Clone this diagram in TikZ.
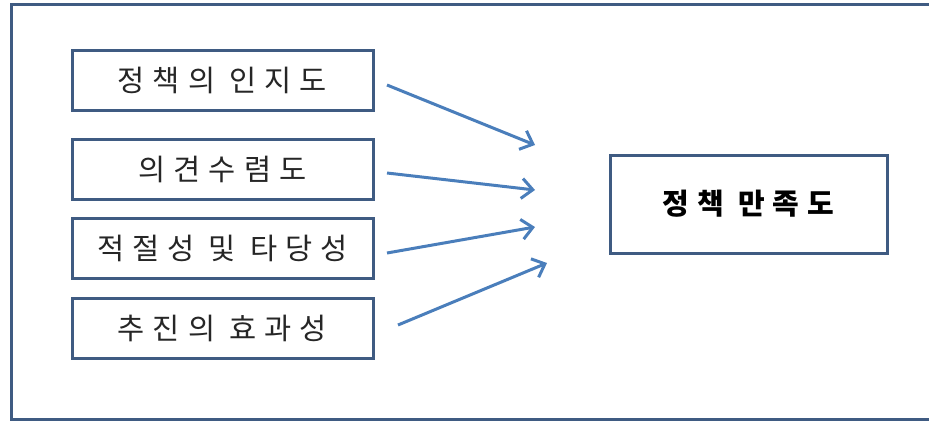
\documentclass[tikz,border=0pt]{standalone}
\usepackage{fontspec}
\setmainfont{Noto Sans CJK KR}[LetterSpace=27]
\usetikzlibrary{arrows.meta}
\definecolor{boxline}{HTML}{3F5B82}
\definecolor{arrowblue}{HTML}{4A7EBB}
\tikzset{
  inbox/.style={draw=boxline, line width=3pt, minimum width=301pt, minimum height=60pt, inner sep=0pt, font=\fontsize{29.5}{31}\selectfont, text=black!85},
  outbox/.style={draw=boxline, line width=3pt, minimum width=277pt, minimum height=98pt, inner sep=0pt, font=\fontsize{29}{31}\selectfont\bfseries},
  link/.style={draw=arrowblue, line width=3pt, -{Straight Barb[length=11pt,width=20pt,line width=3pt]}}
}
\begin{document}
\begin{tikzpicture}[x=1pt,y=-1pt]
\useasboundingbox (0,0) rectangle (929,421);
\begin{scope}
\clip (0,0) rectangle (929,421);
\draw[boxline, line width=3pt] (11.5,4) rectangle (940,419.5);
\end{scope}
\node[inbox] (a) at (222.5,80) {정책의 인지도};
\node[inbox] (b) at (222.5,169) {의견수렴도};
\node[inbox] (c) at (222.5,248.5) {적절성 및 타당성};
\node[inbox] (d) at (222.5,328) {추진의 효과성};
\node[outbox] (t) at (748.5,204) {정책 만족도};
\coordinate (a1) at (387,85);  \coordinate (a2) at (535,145);
\coordinate (b1) at (387,173); \coordinate (b2) at (535,190);
\coordinate (c1) at (387,253); \coordinate (c2) at (535,227);
\coordinate (d1) at (398,325); \coordinate (d2) at (547,263);
\draw[link] (a1) -- (a2);
\draw[link] (b1) -- (b2);
\draw[link] (c1) -- (c2);
\draw[link] (d1) -- (d2);
\end{tikzpicture}
\end{document}
